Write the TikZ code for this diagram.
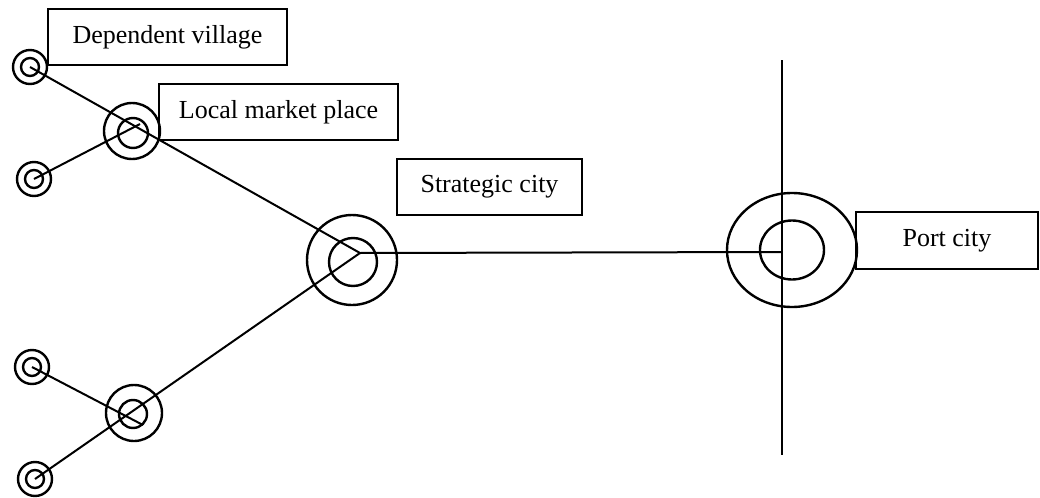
\documentclass[tikz,border=0pt]{standalone}
\usepackage{fontspec}
\setmainfont{Liberation Serif}
\begin{document}
\begin{tikzpicture}[x=0.5pt,y=-0.5pt,
  labelbox/.style={draw, line width=0.8pt, inner sep=0pt, font=\fontsize{13}{15.5}\selectfont},
  ring/.style={line width=1.2pt},
  link/.style={line width=1pt}]
\useasboundingbox (0,0) rectangle (1040,498);

% settlement centres
\coordinate (v1) at (30,67);
\coordinate (v2) at (34,179);
\coordinate (v3) at (32,367);
\coordinate (v4) at (35,479);
\coordinate (m1) at (132,131);
\coordinate (m2) at (134,413);
\coordinate (sc) at (352,260);
\coordinate (hub) at (360,253);
\coordinate (pc) at (792,250);
\coordinate (shore) at (782,252);
\coordinate (coastN) at (782,60);
\coordinate (coastS) at (782,455);
\coordinate (m1end) at (140,124);
\coordinate (m2end) at (143,425);

% dependent villages
\foreach \v in {v1,v2,v3,v4}{
  \draw[ring] (\v) circle (8.5pt);
  \draw[ring] (\v) circle (4.5pt);
}
% local market places
\draw[ring] (m1) circle (14pt);
\draw[ring] ([shift={(1,2)}]m1) circle (7.5pt);
\draw[ring] (m2) circle (14pt);
\draw[ring] ([shift={(-1,1)}]m2) circle (7pt);
% strategic city
\draw[ring] (sc) circle (22.5pt);
\draw[ring] ([shift={(1,2)}]sc) circle (12pt);
% port city
\draw[ring] (pc) ellipse [x radius=32.5pt, y radius=28.5pt];
\draw[ring] (pc) ellipse [x radius=16pt, y radius=14.75pt];

% routes
\draw[link] (v1) -- (hub);
\draw[link] (v4) -- (hub);
\draw[link] (v2) -- (m1end);
\draw[link] (v3) -- (m2end);
\draw[link] (hub) -- (shore);
% coastline
\draw[link] (coastN) -- (coastS);

% labels
\node[labelbox, minimum width=119.5pt, minimum height=28pt] (dv) at (167.5,37) {Dependent village};
\node[labelbox, minimum width=119.5pt, minimum height=28pt] (lmp) at (278.5,112) {Local market place};
\node[labelbox, minimum width=92.5pt, minimum height=28pt] (scl) at (489.5,187) {Strategic city};
\node[labelbox, minimum width=91pt, minimum height=28.5pt] (pcl) at (947,240.5) {Port city};
\end{tikzpicture}
\end{document}
